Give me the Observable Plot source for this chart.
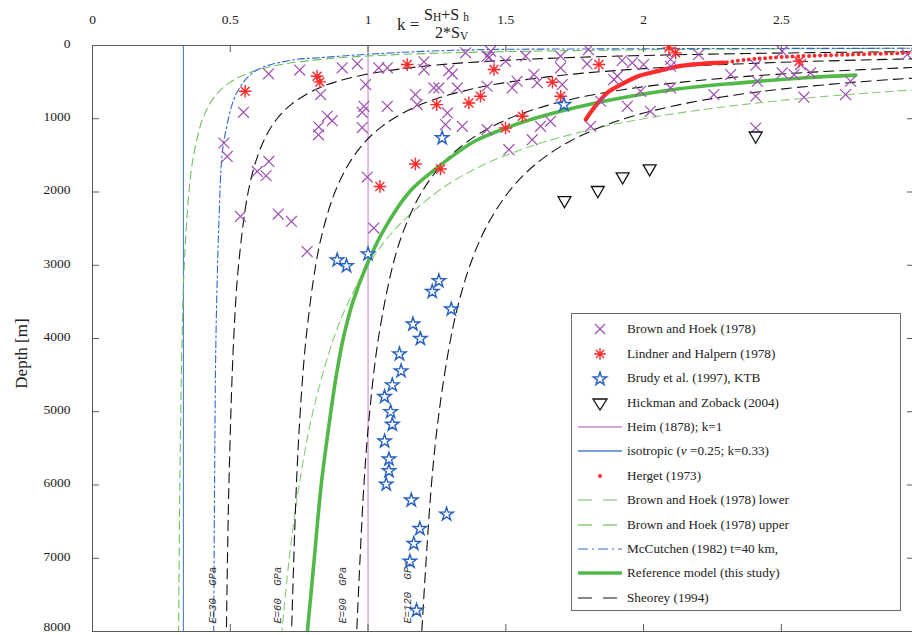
<!DOCTYPE html>
<html><head><meta charset="utf-8">
<script src="https://cdn.jsdelivr.net/npm/d3@7"></script>
<script src="https://cdn.jsdelivr.net/npm/@observablehq/plot@0.6"></script>
<style>
body{margin:0;background:#fff;}
#wrap{position:relative;width:912px;height:635px;overflow:hidden;font-family:"Liberation Serif","Times New Roman",serif;}
#title{position:absolute;left:0;top:0;}
#legend{position:absolute;left:571px;top:313px;width:330px;height:298px;border:1px solid #6a6a6a;background:#fff;box-sizing:border-box;}
.row{position:absolute;left:0;height:24px;line-height:24px;font-size:13.2px;color:#222;white-space:nowrap;}
.row svg{position:absolute;left:0;top:0;}
.row span{position:absolute;left:55px;top:0;}
</style></head>
<body><div id="wrap"><div id="chart"></div>
<svg id="title" width="912" height="45" font-family="Liberation Serif, serif" fill="#222">
  <text x="397" y="30" font-size="17">k =</text>
  <text x="424" y="20" font-size="16">S<tspan font-size="11.5" dy="1">H</tspan><tspan dy="-1">+S </tspan><tspan font-size="11.5" dy="1">h</tspan></text>
  <text x="435" y="38" font-size="16">2*S<tspan font-size="11.5" dy="2">V</tspan></text>
</svg>
<div id="legend"></div></div>
<script>
// ---------------- data (k, depth [m]) ----------------
const xTicks = [0, 0.5, 1, 1.5, 2, 2.5];
const yTicks = [0, 1000, 2000, 3000, 4000, 5000, 6000, 7000, 8000];

const brownHoek = [
 [0.639,387],[0.752,335],[0.548,912],[0.906,305],[0.961,250],[1.039,305],[1.07,305],[1.203,223],[1.203,328],
 [1.293,342],[1.306,390],[1.354,100],[1.432,146],[1.44,160],[0.828,670],[0.991,533],[1.172,670],[1.239,579],
 [1.257,579],[1.324,579],[1.432,556],[0.985,830],[1.07,830],[1.178,807],[1.288,921],[0.852,966],[0.870,1026],
 [0.821,1110],[0.82,1220],[0.979,912],[0.979,1120],[1.281,1080],[1.342,1103],[0.477,1331],[0.489,1514],
 [0.640,1582],[0.598,1719],[0.630,1778],[0.997,1796],[0.537,2334],[0.674,2302],[0.722,2402],[1.021,2493],
 [0.779,2813],[1.499,215],[1.572,146],[1.699,146],[1.699,305],[1.80,55],[1.795,251],[1.922,205],[1.959,237],
 [2.0,260],[2.098,191],[2.098,283],[1.905,419],[1.541,488],[1.602,397],[1.614,510],[1.705,533],[1.808,1103],
 [1.626,1103],[1.662,1035],[1.941,830],[2.025,898],[2.098,579],[1.844,761],[1.989,625],[1.892,465],[1.523,579],
 [1.432,1149],[1.596,1285],[1.511,1422],[1.445,78],[2.2,123],[2.503,78],[2.407,269],[2.316,397],[2.503,374],
 [2.546,397],[2.57,260],[2.606,374],[2.413,488],[2.255,670],[2.407,693],[2.582,706],[2.733,670],[2.751,488],
 [2.957,123],[2.407,1126]
];
const lindnerHalpern = [
 [0.554,625],[0.815,419],[0.825,497],[1.142,260],[1.457,328],[1.249,807],[1.366,784],[1.408,693],[1.172,1618],
 [1.263,1686],[1.043,1924],[1.838,260],[1.669,502],[1.699,693],[1.56,966],[1.499,1126],[2.092,32],[2.116,100],
 [2.564,215]
];
const brudyKTB = [
 [1.711,807],[1.269,1262],[0.888,2930],[0.922,3009],[1.0,2847],[1.257,3214],[1.233,3360],[1.302,3600],[1.163,3804],
 [1.19,4003],[1.114,4212],[1.120,4444],[1.088,4636],[1.06,4795],[1.082,5001],[1.088,5174],[1.06,5402],[1.076,5648],
 [1.076,5808],[1.066,5990],[1.157,6208],[1.285,6400],[1.188,6596],[1.166,6801],[1.152,7043],[1.176,7713]
];
const hickmanZoback = [[1.713,2129],[1.834,1992],[1.924,1805],[2.022,1696],[2.407,1248]];

const heimK = [1];
const isotropicK = [0.33];

const hergetSolid = [[2.29,235],[2.21,250],[2.14,275],[2.05,350],[1.98,420],[1.93,510],[1.87,640],[1.84,760],[1.81,900],[1.79,1012]];
const hergetDotted = [[2.98,100],[2.75,124],[2.56,148],[2.45,170],[2.38,192],[2.29,235]];

const brownHoekLower = [[3.0,37],[2.80,40],[2.30,50],[1.97,60],[1.55,80],[1.30,100],[1.07,130],[0.856,180],[0.70,250],
 [0.586,350],[0.50,500],[0.443,700],[0.40,1000],[0.367,1500],[0.35,2000],[0.333,3000],[0.325,4000],[0.317,6000],[0.3125,8000]];
const brownHoekUpper = [[3.0,600],[2.643,700],[2.375,800],[2.167,900],[2.0,1000],[1.864,1100],[1.654,1300],[1.50,1500],
 [1.38,1700],[1.25,2000],[1.10,2500],[1.0,3000],[0.929,3500],[0.875,4000],[0.80,5000],[0.75,6000],[0.714,7000],[0.6875,8000]];
const mcCutchen = [[3.0,38],[2.5,40],[2.17,42],[1.8,47],[1.445,55],[1.2,80],[0.997,120],[0.85,160],[0.715,205],[0.59,350],
 [0.523,650],[0.482,1200],[0.47,1500],[0.458,2500],[0.448,4000],[0.443,6000],[0.44,8000]];
const referenceModel = [[2.77,405],[2.59,440],[2.35,510],[2.11,600],[1.87,750],[1.75,850],[1.6,1000],[1.52,1100],[1.39,1300],
 [1.31,1500],[1.24,1700],[1.15,2000],[1.06,2500],[0.995,3000],[0.945,3500],[0.91,4000],[0.885,4500],[0.865,5000],[0.83,6000],[0.805,7000],[0.78,8000]];

const sheoreyE = [30, 60, 90, 120];
const sheorey30 = [[3.085,80],[2.93,85],[2.67,95],[2.37,110],[2.075,130],[1.77,160],[1.51,200],[1.30,250],[1.16,300],[0.985,400],
 [0.88,500],[0.81,600],[0.7225,800],[0.67,1000],[0.635,1200],[0.60,1500],[0.565,2000],[0.53,3000],[0.5125,4000],[0.495,6000],[0.486,8000]];
const sheorey60 = [[3.0,180],[2.88,190],[2.67,210],[2.42,240],[2.17,280],[1.943,330],[1.72,400],[1.51,500],[1.37,600],[1.23,750],
 [1.137,900],[1.052,1100],[0.993,1300],[0.9325,1600],[0.88,2000],[0.838,2500],[0.81,3000],[0.775,4000],[0.754,5000],[0.74,6000],[0.7225,8000]];
const sheorey90 = [[2.98,300],[2.79,330],[2.583,370],[2.345,430],[2.14,500],[1.93,600],[1.78,700],[1.6675,800],[1.543,950],[1.453,1100],
 [1.365,1300],[1.274,1600],[1.195,2000],[1.132,2500],[1.09,3000],[1.0375,4000],[1.006,5000],[0.985,6000],[0.959,8000]];
const sheorey120 = [[3.0,440],[2.77,500],[2.49,600],[2.29,700],[2.14,800],[1.974,950],[1.854,1100],[1.736,1300],[1.65,1500],[1.584,1700],
 [1.51,2000],[1.426,2500],[1.37,3000],[1.33,3500],[1.30,4000],[1.258,5000],[1.23,6000],[1.195,8000]];
const sheoreyCurves = [sheorey30, sheorey60, sheorey90, sheorey120];

// ---------------- styles ----------------
const C = {
  purple: "#a04eb2", red: "#ff2b2b", star: "#2660c2", heim: "#c68ad0", iso: "#4d80d4",
  mcc: "#2f68cc", bhLower: "#6cc05a", bhUpper: "#86cd74", ref: "#52b848", frame: "#5a5a5a"
};

const asterisk8 = {draw(ctx, size) {
  const r = Math.sqrt(size) * 0.55, d = r * 0.7071;
  ctx.moveTo(0, -r); ctx.lineTo(0, r); ctx.moveTo(-r, 0); ctx.lineTo(r, 0);
  ctx.moveTo(-d, -d); ctx.lineTo(d, d); ctx.moveTo(-d, d); ctx.lineTo(d, -d);
}};
const triangleDown = {draw(ctx, size) {
  const s = Math.sqrt(size), w = s * 0.56, h = s * 0.5;
  ctx.moveTo(-w, -h * 0.85); ctx.lineTo(w, -h * 0.85); ctx.lineTo(0, h * 1.1); ctx.closePath();
}};

const kMax = 2.976;
const curve = (data, o) => Plot.line(data, {x: d => d[0], y: d => d[1], curve: "catmull-rom", clip: true, ...o});
const yTicksUpper = yTicks.slice(0, -1);
const yTicksLast = yTicks.slice(-1);

const chart = Plot.plot({
  width: 912, height: 635,
  marginLeft: 92, marginRight: 0, marginTop: 45, marginBottom: 4,
  x: {domain: [0, kMax]},
  y: {domain: [0, 8000], reverse: true},
  style: {fontFamily: "Liberation Serif, serif", fontSize: "13.5px", background: "white", color: "#222"},
  marks: [
    Plot.axisX(xTicks, {anchor: "top", tickSize: 0, tickPadding: 22, tickFormat: d => String(d), label: null, fontSize: 13.5}),
    Plot.axisY(yTicksUpper, {anchor: "left", tickSize: 0, tickPadding: 22, dy: -2, tickFormat: d => String(d), label: null, fontSize: 13.5}),
    Plot.axisY(yTicksLast, {anchor: "left", tickSize: 0, tickPadding: 22, dy: -5, tickFormat: d => String(d), label: null, fontSize: 13.5}),
    Plot.text(["Depth [m]"], {frameAnchor: "left", rotate: -90, textAnchor: "middle", dx: -71, dy: 15, fontSize: 17, fill: "#222"}),
    // vertical reference lines
    Plot.ruleX(heimK, {stroke: C.heim, strokeWidth: 1.1}),
    Plot.ruleX(isotropicK, {stroke: C.iso, strokeWidth: 1.1}),
    // model curves
    curve(brownHoekLower, {stroke: C.bhLower, strokeWidth: 1.1, strokeDasharray: "8,5"}),
    curve(brownHoekUpper, {stroke: C.bhUpper, strokeWidth: 1.1, strokeDasharray: "8,5"}),
    curve(mcCutchen, {stroke: C.mcc, strokeWidth: 1.1, strokeDasharray: "7,3,2,3"}),
    ...sheoreyCurves.map(c => curve(c, {stroke: "#111", strokeWidth: 1.1, strokeDasharray: "10,6"})),
    Plot.text(sheoreyE, {x: (e, i) => sheoreyCurves[i][sheoreyCurves[i].length - 1][0], y: 8000,
      text: e => `E=${e}  GPa`, rotate: -90, textAnchor: "start", dx: -14, dy: -8,
      fontFamily: "Liberation Mono, monospace", fontStyle: "italic", fontSize: 10.5, fill: "#333"}),
    curve(referenceModel, {stroke: C.ref, strokeWidth: 3.6}),
    curve(hergetSolid, {stroke: C.red, strokeWidth: 4.2, strokeLinecap: "round"}),
    curve(hergetDotted, {stroke: C.red, strokeWidth: 4, strokeDasharray: "0,5.5", strokeLinecap: "round"}),
    // frame
    Plot.ruleY([0], {stroke: C.frame}),
    Plot.ruleY([8000], {stroke: C.frame}),
    Plot.ruleX([0], {stroke: C.frame}),
    Plot.ruleX(xTicks, {y1: 0, y2: 0, insetBottom: -7, stroke: C.frame}),
    Plot.ruleX(xTicks, {y1: 8000, y2: 8000, insetTop: -7, stroke: C.frame}),
    Plot.ruleY(yTicks, {x1: 0, x2: 0, insetRight: -7, stroke: C.frame}),
    Plot.ruleY(yTicks, {x1: kMax, x2: kMax, insetLeft: -5, stroke: C.frame}),
    // observations
    Plot.dot(brownHoek, {x: d => d[0], y: d => d[1], symbol: "times", r: 5, stroke: C.purple, strokeWidth: 1.2, clip: true}),
    Plot.dot(lindnerHalpern, {x: d => d[0], y: d => d[1], symbol: asterisk8, r: 6.5, stroke: C.red, fill: "none", strokeWidth: 1.4, clip: true}),
    Plot.dot(brudyKTB, {x: d => d[0], y: d => d[1], symbol: "star", r: 4.2, stroke: C.star, fill: "white", strokeWidth: 1.4}),
    Plot.dot(hickmanZoback, {x: d => d[0], y: d => d[1], symbol: triangleDown, r: 6.5, stroke: "#111", fill: "white", strokeWidth: 1.3})
  ]
});
document.getElementById("chart").appendChild(chart);

// ---------------- legend ----------------
const legendItems = [
  {label: "Brown and Hoek (1978)", kind: "times", color: C.purple},
  {label: "Lindner and Halpern (1978)", kind: "asterisk", color: C.red},
  {label: "Brudy et al. (1997), KTB", kind: "star", color: C.star},
  {label: "Hickman and Zoback (2004)", kind: "triangle", color: "#111"},
  {label: "Heim (1878); k=1", kind: "line", color: C.heim, w: 1.3},
  {label: "isotropic (<i>ν</i> =0.25; k=0.33)", kind: "line", color: C.iso, w: 1.3},
  {label: "Herget (1973)", kind: "dot", color: C.red},
  {label: "Brown and Hoek (1978) lower", kind: "line", color: C.bhLower, w: 1.2, dash: "14,11"},
  {label: "Brown and Hoek (1978) upper", kind: "line", color: C.bhUpper, w: 1.4, dash: "14,11"},
  {label: "McCutchen (1982) t=40 km,", kind: "line", color: C.mcc, w: 1.2, dash: "10,4,2,4"},
  {label: "Reference model (this study)", kind: "line", color: C.ref, w: 3.6},
  {label: "Sheorey (1994)", kind: "line", color: "#111", w: 1.2, dash: "14,11"}
];
function swatch(it) {
  const cx = 28, cy = 12;
  let s = "";
  if (it.kind === "line") s = `<line x1="6" x2="50" y1="${cy}" y2="${cy}" stroke="${it.color}" stroke-width="${it.w}" ${it.dash ? `stroke-dasharray="${it.dash}"` : ""}/>`;
  else if (it.kind === "times") s = `<path d="M${cx-5},${cy-5}L${cx+5},${cy+5}M${cx-5},${cy+5}L${cx+5},${cy-5}" stroke="${it.color}" stroke-width="1.2"/>`;
  else if (it.kind === "asterisk") { const r = 5.8, d = r * 0.7071;
    s = `<path d="M${cx},${cy-r}V${cy+r}M${cx-r},${cy}H${cx+r}M${cx-d},${cy-d}L${cx+d},${cy+d}M${cx-d},${cy+d}L${cx+d},${cy-d}" stroke="${it.color}" stroke-width="1.4"/>`; }
  else if (it.kind === "star") { const sym = d3.symbol(d3.symbolStar, Math.PI * 17.6)();
    s = `<path transform="translate(${cx},${cy+1})" d="${sym}" fill="white" stroke="${it.color}" stroke-width="1.4"/>`; }
  else if (it.kind === "triangle") s = `<path d="M${cx-7},${cy-4}L${cx+7},${cy-4}L${cx},${cy+7}Z" fill="white" stroke="${it.color}" stroke-width="1.3"/>`;
  else if (it.kind === "dot") s = `<circle cx="${cx}" cy="${cy}" r="2" fill="${it.color}"/>`;
  return `<svg width="54" height="24">${s}</svg>`;
}
const leg = document.getElementById("legend");
legendItems.forEach((it, i) => {
  const row = document.createElement("div");
  row.className = "row";
  row.style.top = (3.3 + i * 24.4) + "px";
  row.style.width = "328px";
  row.innerHTML = swatch(it) + `<span>${it.label}</span>`;
  leg.appendChild(row);
});
</script></body></html>
